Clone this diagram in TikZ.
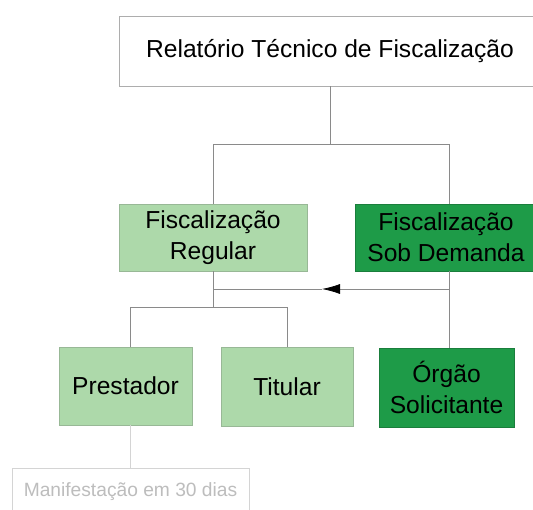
\documentclass[tikz,border=0pt]{standalone}
\usepackage{fontspec}
\setmainfont{Liberation Sans}
\usetikzlibrary{arrows.meta}
\definecolor{lgreen}{HTML}{ADD9AA}
\definecolor{lgborder}{HTML}{98B896}
\definecolor{dgreen}{HTML}{1E9B48}
\definecolor{dgborder}{HTML}{1A7E3C}
\definecolor{conn}{HTML}{8A8A8A}
\definecolor{faded}{HTML}{D4D4D4}
\definecolor{fadedtext}{HTML}{BDBDBD}
\tikzset{
  box/.style={draw, line width=0.8pt, inner sep=0pt, align=center, font=\fontsize{24.6}{31}\selectfont},
  topbox/.style={box, draw=conn!70, fill=white},
  lightbox/.style={box, draw=lgborder, fill=lgreen},
  darkbox/.style={box, draw=dgborder, fill=dgreen},
  fadebox/.style={draw=faded, line width=0.8pt, fill=white, inner sep=0pt, text=fadedtext, font=\fontsize{19.2}{23}\selectfont},
  link/.style={draw=conn, line width=0.8pt},
  fadelink/.style={draw=faded, line width=0.8pt}
}
\begin{document}
\begin{tikzpicture}[x=1pt,y=-1pt]
\clip (0,0) rectangle (533,509);
\fill[white] (0,0) rectangle (533,509);
% nodes
\node[topbox, minimum width=422pt, minimum height=70pt] (top) at (330,51) {Relatório Técnico de Fiscalização};
\node[lightbox, minimum width=188pt, minimum height=67pt] (reg) at (213,237.5) {Fiscalização\\Regular};
\node[darkbox, minimum width=182pt, minimum height=67pt] (sob) at (446,237.5) {Fiscalização\\Sob Demanda};
\node[lightbox, minimum width=133pt, minimum height=78pt] (prest) at (125.5,386) {Prestador};
\node[lightbox, minimum width=132pt, minimum height=79pt] (tit) at (287,386.5) {Titular};
\node[darkbox, minimum width=135pt, minimum height=79pt] (org) at (446.5,387.5) {Órgão\\Solicitante};
\node[fadebox, minimum width=237pt, minimum height=48pt] (man) at (130.5,492) {Manifestação em 30 dias};
% junctions
\coordinate (j0) at (330,144);
\coordinate (jR) at (213,144);
\coordinate (jS) at (449,144);
\coordinate (k1) at (213,289);
\coordinate (k2) at (449,289);
\coordinate (tip) at (322,289);
\coordinate (m0) at (213,307);
\coordinate (mP) at (130,307);
\coordinate (mT) at (287,307);
% connectors
\draw[link] (top.south) -- (j0);
\draw[link] (jR) -- (jS);
\draw[link] (jR) -- (reg.north);
\draw[link] (jS) -- (jS |- sob.north);
\draw[link] (reg.south) -- (k1);
\draw[link] (k1) -- (tip);
\draw[link, -{Latex[length=18pt,width=10pt,color=black,fill=black]}] (k2) -- (tip);
\draw[link] (k2 |- sob.south) -- (k2 |- org.north);
\draw[link] (k1) -- (m0);
\draw[link] (mP) -- (mT);
\draw[link] (mP) -- (mP |- prest.north);
\draw[link] (mT) -- (tit.north);
\draw[fadelink] (mP |- prest.south) -- (mP |- man.north);
\end{tikzpicture}
\end{document}
